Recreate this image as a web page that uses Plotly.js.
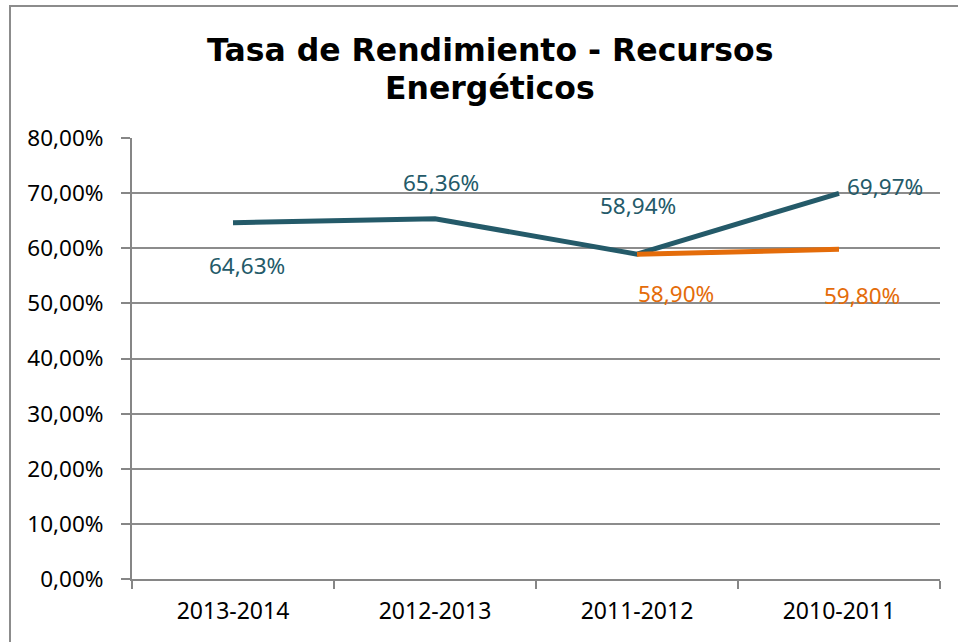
<!DOCTYPE html>
<html><head><meta charset="utf-8">
<script src="https://cdn.plot.ly/plotly-3.0.1.min.js"></script>
<style>
html,body{margin:0;padding:0;background:#fff;overflow:hidden}
#chart{position:absolute;left:0;top:0;width:958px;height:642px}
#frame{position:absolute;left:9px;top:5px;width:980px;height:680px;border:2px solid #8c8c8c;pointer-events:none}
</style></head>
<body>
<div id="chart"></div>
<div id="frame"></div>
<script>
const categories = ['2013-2014','2012-2013','2011-2012','2010-2011'];
const seriesA = [64.63, 65.36, 58.94, 69.97];
const seriesB = [null, null, 58.90, 59.80];
const labelsA = ['64,63%','65,36%','58,94%','69,97%'];
const labelsB = [null, null, '58,90%','59,80%'];
const yTicks = [0,10,20,30,40,50,60,70,80];
const yTickText = ['0,00%','10,00%','20,00%','30,00%','40,00%','50,00%','60,00%','70,00%','80,00%'];
const titleLines = ['Tasa de Rendimiento - Recursos','Energéticos'];

const teal = '#245a69';
const orange = '#e46c0a';
const labelFont = {family:'Noto Sans, sans-serif', size:22.5};

const shiftsA = [[14,-43],[6,36],[1,49],[46,7]];
const shiftsB = [[null,null],[null,null],[39,-39],[23,-46]];

const annotations = [];
seriesA.forEach((v,i)=>{
  if (v===null) return;
  annotations.push({x:categories[i], y:v, xref:'x', yref:'y', text:labelsA[i], showarrow:false,
    xshift:shiftsA[i][0], yshift:shiftsA[i][1], font:Object.assign({color:teal},labelFont)});
});
seriesB.forEach((v,i)=>{
  if (v===null) return;
  annotations.push({x:categories[i], y:v, xref:'x', yref:'y', text:labelsB[i], showarrow:false,
    xshift:shiftsB[i][0], yshift:shiftsB[i][1], font:Object.assign({color:orange},labelFont)});
});
// title lines (placed in paper coordinates above the plot)
const titleY = [(579-50)/441, (579-88)/441];
titleLines.forEach((t,i)=>{
  annotations.push({text:'<b>'+t+'</b>', xref:'paper', yref:'paper', x:(490-132)/808, y:titleY[i],
    xanchor:'center', yanchor:'middle', showarrow:false,
    font:{family:'DejaVu Sans, Verdana, sans-serif', size:31.5, color:'#000'}});
});

const data = [
  {x:categories, y:seriesA, type:'scatter', mode:'lines', line:{color:teal, width:5}, hoverinfo:'skip'},
  {x:categories, y:seriesB, type:'scatter', mode:'lines', line:{color:orange, width:5}, hoverinfo:'skip', connectgaps:false}
];

const layout = {
  width:958, height:642,
  margin:{l:132, r:18, t:138, b:63},
  paper_bgcolor:'#fff', plot_bgcolor:'#fff',
  showlegend:false,
  xaxis:{type:'category', tickson:'boundaries', ticks:'outside', ticklen:8, tickcolor:'#868686', tickwidth:2,
    showline:true, linecolor:'#868686', linewidth:2, showgrid:false, zeroline:false, ticklabelstandoff:10,
    tickfont:{family:'Noto Sans, sans-serif', size:23, color:'#000'}, range:[-0.5,3.5]},
  yaxis:{range:[0,80], tickvals:yTicks, ticktext:yTickText, ticks:'outside', ticklen:9, tickcolor:'#868686', tickwidth:2,
    showline:true, linecolor:'#868686', linewidth:2, showgrid:true, gridcolor:'#8c8c8c', gridwidth:2, zeroline:false,
    ticklabelstandoff:13,
    tickfont:{family:'Noto Sans, sans-serif', size:22.5, color:'#000'}, fixedrange:true},
  annotations:annotations
};
Plotly.newPlot('chart', data, layout, {staticPlot:true, displayModeBar:false});
</script>
</body></html>
